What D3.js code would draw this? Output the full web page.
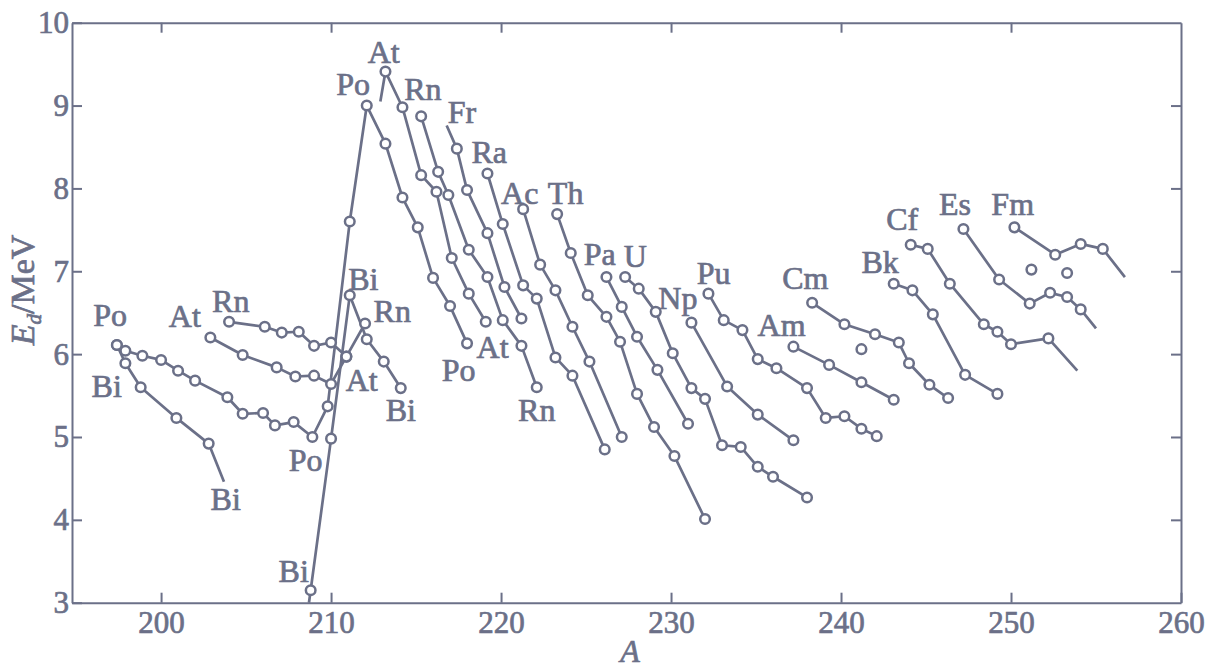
<!DOCTYPE html>
<html>
<head>
<meta charset="utf-8">
<script src="https://cdn.jsdelivr.net/npm/d3@7/dist/d3.min.js"></script>
<style>
    html, body { margin: 0; padding: 0; background: #fff; }
    svg { display: block; }
    text { font-family: 'Liberation Serif', 'Times New Roman', serif; fill: #6b7088; }
</style>
</head>
<body>
<svg class="chart" width="1208" height="670"></svg>
<script>
// each point is [A, Ed in MeV]; a third value 0 marks a line end drawn without a circle
var poLeft = [[197.4,6.11],[197.9,6.04],[198.9,5.98],[200.0,5.93],[201.0,5.80],[202.0,5.68],[203.9,5.48],
    [204.8,5.28],[206.0,5.29],[206.7,5.14],[207.8,5.18],[208.9,5.00],[209.8,5.37],[211.1,7.60],[212.1,9.00],
    [213.2,8.54],[214.2,7.89],[215.1,7.53],[216.0,6.92],[217.0,6.58],[218.0,6.13]];
var biLeft = [[197.4,6.11],[197.9,5.89],[198.8,5.60],[200.9,5.23],[202.8,4.92],[203.7,4.46,0]];
var biRight = [[208.7,3.00,0],[208.8,3.15],[210.0,4.98],[211.1,6.71],[212.1,6.18],[213.1,5.91],[214.1,5.59]];
var atLeft = [[202.9,6.20],[204.8,5.99],[206.8,5.84],[207.9,5.73],[209.0,5.74],[210.0,5.64],[210.9,5.97]];
var rnLeft = [[204.0,6.39],[206.1,6.33],[207.1,6.26],[208.1,6.27],[209.0,6.10],[210.0,6.14],[210.9,5.97],[212.0,6.37]];
var atRight = [[212.9,9.05,0],[213.2,9.41],[214.2,8.98],[215.3,8.16],[216.2,7.96],[217.1,7.16],[218.1,6.73],[219.1,6.39]];
var rnRight = [[215.3,8.87],[216.3,8.20],[216.9,7.92],[218.1,7.26],[219.2,6.93],[220.1,6.41],[221.2,6.10],[222.1,5.60]];
var fr = [[216.8,8.76,0],[217.4,8.48],[218.0,7.98],[219.2,7.46],[220.2,6.81],[221.2,6.43]];
var ra = [[219.2,8.18],[220.1,7.57],[221.3,6.83],[222.1,6.67],[223.2,5.96],[224.2,5.74],[226.1,4.85]];
var ac = [[221.3,7.75],[222.3,7.08],[223.2,6.77],[224.2,6.33],[225.2,5.91],[227.1,5.00]];
var th = [[223.3,7.69],[224.1,7.22],[225.1,6.71],[226.2,6.45],[227.0,6.15],[228.0,5.52],[229.0,5.12],[230.2,4.77],[232.0,4.01]];
var pa = [[226.2,6.93],[227.1,6.57],[228.0,6.21],[229.2,5.81],[231.0,5.16]];
var u = [[227.3,6.93],[228.1,6.79],[229.1,6.51],[230.1,6.01],[231.2,5.59],[232.0,5.46],[233.0,4.90],[234.1,4.88],
    [235.1,4.64],[236.0,4.52],[238.0,4.27]];
var np = [[231.2,6.38],[233.3,5.61],[235.1,5.27],[237.2,4.96]];
var pu = [[232.2,6.73],[233.1,6.41],[234.2,6.29],[235.1,5.94],[236.2,5.83],[238.0,5.59],[239.1,5.23],[240.2,5.25],
    [241.2,5.10],[242.1,5.01]];
var am = [[237.2,6.09],[239.3,5.87],[241.2,5.66],[243.1,5.45]];
var cm = [[238.3,6.62],[240.2,6.36],[242.0,6.24],[243.4,6.14],[244.0,5.89],[245.2,5.63],[246.3,5.47]];
var bk = [[243.1,6.85],[244.2,6.77],[245.4,6.48],[247.3,5.75],[249.2,5.52]];
var cf = [[244.1,7.32],[245.1,7.27],[246.4,6.85],[248.4,6.36],[249.2,6.27],[250.0,6.12],[252.2,6.19],[253.9,5.80,0]];
var es = [[247.2,7.51],[249.3,6.90],[251.1,6.61],[252.3,6.74],[253.3,6.69],[254.1,6.54],[255.0,6.31,0]];
var fm = [[250.2,7.53],[252.6,7.20],[254.1,7.33],[255.4,7.27],[256.7,6.93,0]];
var loose = [[241.2,6.06],[251.2,7.02],[253.3,6.98]];

var labels = [['Po',197.0,6.48],['At',201.4,6.46],['Rn',204.1,6.64],['Bi',196.8,5.62],['Bi',203.8,4.26],
    ['Po',211.3,9.26],['At',213.1,9.65],['Rn',215.4,9.20],['Fr',217.7,8.92],['Ra',219.3,8.44],['Ac',221.1,7.95],
    ['Th',223.8,7.95],['Pa',225.8,7.21],['U',227.9,7.19],['Np',230.4,6.68],['Pu',232.5,6.98],['Am',236.5,6.35],
    ['Cm',237.9,6.92],['Bk',242.3,7.11],['Cf',243.6,7.63],['Es',246.7,7.82],['Fm',250.1,7.82],['Bi',211.9,6.91],
    ['Rn',213.6,6.52],['At',211.8,5.69],['Bi',214.1,5.33],['Po',217.5,5.81],['At',219.5,6.09],['Rn',222.1,5.33],
    ['Po',208.5,4.72],['Bi',207.8,3.38]];

var xTicks = [200, 210, 220, 230, 240, 250, 260];
var yTicks = [3, 4, 5, 6, 7, 8, 9, 10];

var allSeries = [poLeft, biLeft, biRight, atLeft, rnLeft, atRight, rnRight, fr, ra, ac, th, pa, u, np, pu, am, cm, bk, cf, es, fm];

var ink = '#6b7088';
var svg = d3.select('.chart');
var plotLeft = 72, plotRight = 1181, plotTop = 22.7, plotBottom = 602.7;

var x = d3.scaleLinear().domain([194.76, 260]).range([plotLeft, plotRight]);
var y = d3.scaleLinear().domain([3, 10]).range([plotBottom, plotTop]);

function styleAxis(g) {
    g.selectAll('path').attr('stroke', ink).attr('stroke-width', 2);
    g.selectAll('line').attr('stroke', ink).attr('stroke-width', 2);
    g.selectAll('text').attr('fill', ink).style('font-size', '31px')
        .style('font-family', "'Liberation Serif', serif")
        .attr('stroke', ink).attr('stroke-width', 0.7);
}

svg.append('g')
    .attr('transform', 'translate(0,' + plotBottom + ')')
    .call(d3.axisBottom(x).tickValues(xTicks).tickFormat(d3.format('d'))
        .tickSizeInner(-10).tickSizeOuter(0).tickPadding(8))
    .call(styleAxis);
svg.append('g')
    .attr('transform', 'translate(' + plotLeft + ',0)')
    .call(d3.axisLeft(y).tickValues(yTicks).tickFormat(d3.format('d'))
        .tickSizeInner(-10).tickSizeOuter(0).tickPadding(3))
    .call(styleAxis);
svg.append('g')
    .attr('transform', 'translate(0,' + plotTop + ')')
    .call(d3.axisTop(x).tickValues(xTicks.slice(0, 6)).tickSizeInner(-10).tickSizeOuter(0).tickFormat(''))
    .call(styleAxis);
svg.append('g')
    .attr('transform', 'translate(' + plotRight + ',0)')
    .call(d3.axisRight(y).tickValues(yTicks.slice(1, 7)).tickSizeInner(-10).tickSizeOuter(0).tickFormat(''))
    .call(styleAxis);

var line = d3.line()
    .x(function(d) { return x(d[0]); })
    .y(function(d) { return y(d[1]); });

svg.append('g').selectAll('path')
    .data(allSeries)
    .enter().append('path')
        .attr('d', line)
        .attr('fill', 'none')
        .attr('stroke', ink)
        .attr('stroke-width', 2.7)
        .attr('stroke-linejoin', 'round');

var dots = [];
allSeries.forEach(function(s) {
    s.forEach(function(p) { if (p[2] !== 0) dots.push(p); });
});
dots = dots.concat(loose);

svg.append('g').selectAll('circle')
    .data(dots)
    .enter().append('circle')
        .attr('cx', function(d) { return x(d[0]); })
        .attr('cy', function(d) { return y(d[1]); })
        .attr('r', 4.8)
        .attr('fill', '#fff')
        .attr('stroke', ink)
        .attr('stroke-width', 2.5);

svg.append('g').selectAll('text')
    .data(labels)
    .enter().append('text')
        .attr('x', function(d) { return x(d[1]); })
        .attr('y', function(d) { return y(d[2]); })
        .attr('text-anchor', 'middle')
        .attr('dy', '0.35em')
        .attr('stroke', ink)
        .attr('stroke-width', 0.7)
        .style('font-size', '32px')
        .text(function(d) { return d[0]; });

var yTitle = svg.append('text')
    .attr('transform', 'translate(34,290) rotate(-90)')
    .attr('text-anchor', 'middle')
    .attr('stroke', ink)
    .attr('stroke-width', 0.7)
    .style('font-size', '34px');
yTitle.append('tspan').style('font-style', 'italic').text('E');
yTitle.append('tspan').style('font-style', 'italic').style('font-size', '21px').attr('dy', 7).text('d');
yTitle.append('tspan').attr('dy', -7).text('/MeV');

svg.append('text')
    .attr('x', 630)
    .attr('y', 662)
    .attr('text-anchor', 'middle')
    .attr('stroke', ink)
    .attr('stroke-width', 0.7)
    .style('font-size', '32px')
    .style('font-style', 'italic')
    .text('A');
</script>
</body>
</html>
